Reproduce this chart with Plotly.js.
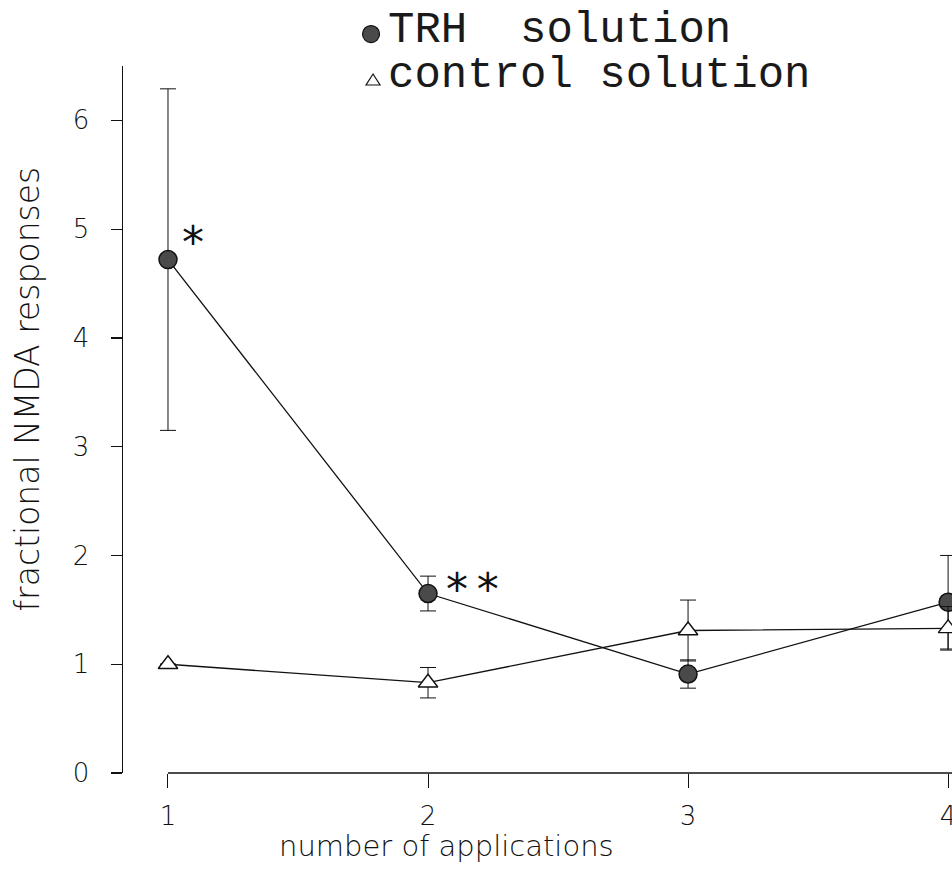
<!DOCTYPE html>
<html>
<head>
<meta charset="utf-8">
<script src="https://cdn.plot.ly/plotly-3.0.1.min.js"></script>
<style>
html,body{margin:0;padding:0;background:#fff;}
#chart{width:952px;height:872px;}
</style>
</head>
<body>
<div id="chart"></div>
<script>
// ---- data ----
const applications = [1, 2, 3, 4];
const xTickLabels = ['1', '2', '3', '4'];
const yTickValues = [0, 1, 2, 3, 4, 5, 6];
const trhMean = [4.72, 1.65, 0.91, 1.57];
const trhErr = [1.57, 0.16, 0.13, 0.43];
const controlMean = [1.00, 0.83, 1.31, 1.33];
const controlErr = [0.00, 0.14, 0.28, 0.20];
const seriesNames = ['TRH  solution', 'control solution'];
const stars = [{x: 1, y: trhMean[0], text: '*'}, {x: 2, y: trhMean[1], text: '*\u2009*'}];

const axisFont = {family: 'DejaVu Sans, Lato, sans-serif', size: 26, color: '#111', weight: 200};
const xTitleFont = {family: 'DejaVu Sans, Lato, sans-serif', size: 29, color: '#111', weight: 200};
const yTitleFont = {family: 'DejaVu Sans, Lato, sans-serif', size: 33, color: '#111', weight: 200};
const legendFont = {family: 'Liberation Mono, Courier New, monospace', size: 44, color: '#1a1a1a'};

const traces = [
  {x: applications, y: trhMean, mode: 'lines', line: {color: '#111', width: 1.3}, showlegend: false, hoverinfo: 'skip'},
  {x: applications, y: controlMean, mode: 'lines', line: {color: '#111', width: 1.3}, showlegend: false, hoverinfo: 'skip'},
  {x: applications, y: trhMean, mode: 'markers', name: seriesNames[0],
   error_y: {type: 'data', array: trhErr, visible: true, color: '#111', thickness: 1, width: 8},
   marker: {symbol: 'circle', size: 18, color: '#4a4a4a', line: {color: '#111', width: 1.5}}, showlegend: false},
  {x: applications, y: controlMean, mode: 'markers', name: seriesNames[1],
   error_y: {type: 'data', array: controlErr, visible: true, color: '#111', thickness: 1, width: 8},
   marker: {symbol: 'triangle-up', size: 17, color: '#fff', line: {color: '#111', width: 1.4}}, showlegend: false}
];

const annotations = [
  {xref: 'paper', yref: 'paper', x: -0.1146, y: 0.5438, text: 'fractional NMDA responses', textangle: -90,
   showarrow: false, xanchor: 'center', yanchor: 'middle', font: yTitleFont},
  {xref: 'paper', yref: 'paper', x: 0.3908, y: -0.103, text: 'number of applications',
   showarrow: false, xanchor: 'center', yanchor: 'middle', font: xTitleFont},
  {xref: 'paper', yref: 'paper', x: 0.3172, y: 1.051, text: seriesNames[0],
   showarrow: false, xanchor: 'left', yanchor: 'middle', font: legendFont},
  {xref: 'paper', yref: 'paper', x: 0.3172, y: 0.987, text: seriesNames[1],
   showarrow: false, xanchor: 'left', yanchor: 'middle', font: legendFont}
];
stars.forEach((s, i) => {
  annotations.push({x: s.x, y: s.y, xref: 'x', yref: 'y', text: s.text, showarrow: false,
    xanchor: 'left', yanchor: 'middle', xshift: i === 0 ? 12 : 16, yshift: i === 0 ? 17 : 4,
    font: {family: 'DejaVu Sans, sans-serif', size: 44, color: '#111'}});
});

const shapes = [
  // detached x-axis line starting at the first category
  {type: 'line', xref: 'x', yref: 'paper', x0: applications[0], x1: 4.03, y0: 0, y1: 0,
   line: {color: '#111', width: 1.5}},
  // legend symbols
  {type: 'circle', xref: 'paper', yref: 'paper', xsizemode: 'pixel', ysizemode: 'pixel',
   xanchor: 0.2992, yanchor: 1.0452, x0: -8.5, x1: 8.5, y0: -8.5, y1: 8.5,
   fillcolor: '#4a4a4a', line: {color: '#111', width: 1.2}},
  {type: 'path', xref: 'paper', yref: 'paper', xsizemode: 'pixel', ysizemode: 'pixel',
   xanchor: 0.3016, yanchor: 0.9802, path: 'M -7 -5 L 7 -5 L 0 6 Z',
   fillcolor: '#fff', line: {color: '#111', width: 1.2}}
];

const layout = {
  width: 952, height: 872,
  margin: {l: 123, r: 0, t: 66, b: 99},
  paper_bgcolor: '#fff', plot_bgcolor: '#fff',
  showlegend: false,
  xaxis: {range: [0.827, 4.015], tickvals: applications, ticktext: xTickLabels,
    showline: false, showgrid: false, zeroline: false, ticks: 'outside', ticklen: 14,
    tickwidth: 1, tickcolor: '#111', tickfont: axisFont, ticklabelstandoff: 6,
    ticklabeloverflow: 'allow'},
  yaxis: {range: [0, 6.5], tickvals: yTickValues, showline: true, linecolor: '#111', linewidth: 1.5,
    showgrid: false, zeroline: false, ticks: 'outside', ticklen: 11, tickwidth: 1.3,
    tickcolor: '#111', tickfont: axisFont, ticklabelstandoff: 16},
  annotations: annotations,
  shapes: shapes
};

Plotly.newPlot('chart', traces, layout, {displayModeBar: false, staticPlot: true});
</script>
</body>
</html>
